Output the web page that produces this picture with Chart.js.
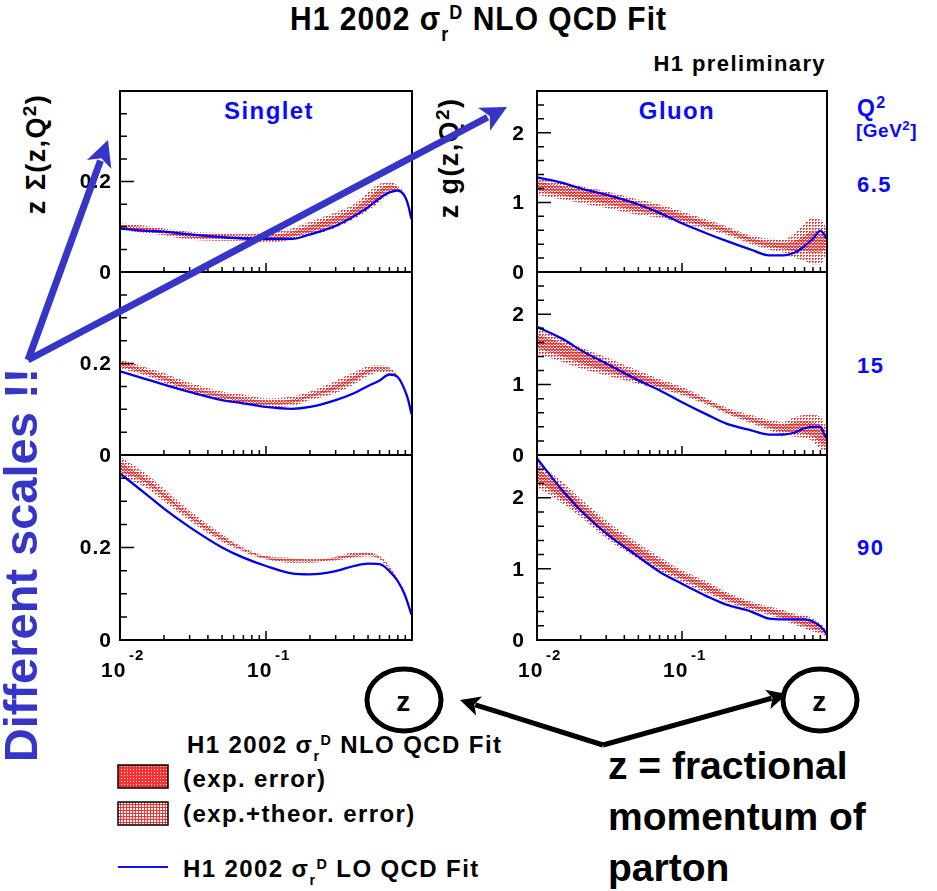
<!DOCTYPE html>
<html>
<head>
<meta charset="utf-8">
<title>H1 2002 NLO QCD Fit</title>
<script src="https://cdn.jsdelivr.net/npm/chart.js@4.4.1/dist/chart.umd.min.js"></script>
<style>
  body { margin: 0; background: #fff; }
  #page { position: relative; width: 937px; height: 891px; overflow: hidden; background: #fff; }
  #page canvas { position: absolute; }
  .t { position: absolute; white-space: nowrap; line-height: 1; font-family: "Liberation Sans", Arial, sans-serif; font-weight: bold; color: #000; }
  .root { letter-spacing: 1.4px; }
  .blue { color: #0a0aff; }
  .ppt { color: #3535c8; }
  .sub { font-size: 60%; position: relative; top: 0.55em; }
  .sup { font-size: 60%; position: relative; top: -0.55em; }
  .sq { font-size: 70%; position: relative; top: -0.5em; }
  .vert { transform: translate(-50%, -50%) rotate(-90deg); }
  #marks { position: absolute; left: 0; top: 0; }
</style>
</head>
<body>
<div id="page">
  <div class="t root" style="left:0;width:957px;text-align:center;top:4px;font-size:30px;letter-spacing:1px;transform:scaleY(1.1)">H1 2002 σ<span class="sub">r</span><span class="sup">D</span> NLO QCD Fit</div>
  <div class="t root" style="right:111px;top:53px;font-size:22px">H1 preliminary</div>

  <div class="t root blue" style="left:269px;top:99px;font-size:24px;transform:translateX(-50%)">Singlet</div>
  <div class="t root blue" style="left:677px;top:99px;font-size:24px;transform:translateX(-50%)">Gluon</div>

  <div class="t root vert" style="left:36px;top:154px;font-size:27px">z Σ(z,Q<span class="sq">2</span>)</div>
  <div class="t root vert" style="left:449px;top:158px;font-size:27px">z g(z,Q<span class="sq">2</span>)</div>

  <div class="t root blue" style="left:857px;top:97px;font-size:23px">Q<span class="sq">2</span></div>
  <div class="t root blue" style="left:856px;top:121px;font-size:19px;letter-spacing:0.5px">[GeV<span class="sq">2</span>]</div>
  <div class="t root blue" style="left:857px;top:174px;font-size:22px">6.5</div>
  <div class="t root blue" style="left:857px;top:355px;font-size:22px">15</div>
  <div class="t root blue" style="left:857px;top:537px;font-size:22px">90</div>

  <div class="t root" style="left:187px;top:733px;font-size:24px">H1 2002 σ<span class="sub">r</span><span class="sup">D</span> NLO QCD Fit</div>
  <div class="t root" style="left:183px;top:767px;font-size:24px">(exp. error)</div>
  <div class="t root" style="left:183px;top:802px;font-size:24px">(exp.+theor. error)</div>
  <div class="t root" style="left:183px;top:857px;font-size:24px">H1 2002 σ<span class="sub">r</span><span class="sup">D</span> LO QCD Fit</div>

  <div class="t root" style="left:404px;top:702px;font-size:28px;transform:translate(-50%,-50%)">z</div>
  <div class="t root" style="left:820px;top:702px;font-size:28px;transform:translate(-50%,-50%)">z</div>

  <div class="t" style="left:608px;top:746px;font-size:39px">z = fractional</div>
  <div class="t" style="left:608px;top:797px;font-size:39px">momentum of</div>
  <div class="t" style="left:608px;top:848px;font-size:39px">parton</div>

  <svg id="marks" width="937" height="891"></svg>
  <div class="t ppt vert" style="left:20px;top:565px;font-size:47px">Different scales !!</div>
</div>

<script>
// momentum fraction z, shared by every curve
const Z = [0.01, 0.015, 0.02, 0.03, 0.05, 0.07, 0.1, 0.15, 0.2, 0.3, 0.4, 0.5, 0.6, 0.7, 0.8, 0.9, 0.95, 0.99];

// singlet z*Sigma, Q2 = 6.5
const sigma6_lo    = [.096, .091, .089, .083, .077, .074, .073, .073, .083, .102, .123, .143, .163, .176, .180, .165, .143, .117];
const sigma6_totHi = [.108, .102, .096, .089, .086, .084, .086, .096, .111, .132, .150, .176, .195, .199, .190, .170, .145, .118];
const sigma6_totLo = [.093, .086, .081, .071, .069, .069, .065, .071, .080, .098, .117, .136, .154, .173, .177, .162, .138, .112];
const sigma6_expHi = [.104, .098, .092, .085, .082, .080, .080, .089, .103, .122, .140, .163, .183, .191, .186, .168, .143, .116];
const sigma6_expLo = [.097, .090, .085, .076, .073, .073, .071, .078, .088, .107, .126, .148, .166, .181, .181, .164, .140, .114];

// singlet, Q2 = 15
const sigma15_lo    = [.183, .166, .154, .138, .120, .113, .105, .101, .105, .120, .135, .151, .163, .176, .170, .139, .116, .090];
const sigma15_totHi = [.208, .192, .179, .158, .139, .132, .124, .128, .139, .162, .181, .194, .196, .192, .173, .143, .120, .094];
const sigma15_totLo = [.189, .173, .158, .135, .120, .110, .105, .107, .120, .135, .154, .173, .181, .181, .168, .137, .114, .089];
const sigma15_expHi = [.202, .186, .172, .150, .133, .125, .118, .121, .132, .153, .172, .187, .191, .188, .172, .141, .118, .092];
const sigma15_expLo = [.194, .178, .164, .142, .125, .116, .110, .113, .126, .143, .162, .180, .186, .185, .169, .139, .116, .090];

// singlet, Q2 = 90
const sigma90_lo    = [.360, .316, .284, .244, .200, .178, .160, .144, .142, .149, .160, .165, .164, .149, .127, .095, .073, .055];
const sigma90_totHi = [.396, .360, .327, .280, .229, .200, .182, .178, .175, .180, .189, .189, .182, .160, .131, .102, .076, .058];
const sigma90_totLo = [.353, .330, .300, .258, .212, .191, .174, .167, .167, .172, .178, .181, .174, .153, .127, .098, .074, .057];
const sigma90_expHi = [.385, .350, .318, .272, .224, .197, .180, .175, .173, .178, .186, .187, .179, .158, .130, .101, .075, .058];
const sigma90_expLo = [.365, .340, .308, .265, .217, .194, .176, .169, .169, .174, .181, .183, .177, .155, .128, .099, .075, .057];

// gluon z*g, Q2 = 6.5
const glu6_lo    = [1.36, 1.28, 1.20, 1.11, 0.97, 0.85, 0.70, 0.55, 0.45, 0.32, 0.24, 0.24, 0.28, 0.37, 0.48, 0.59, 0.55, 0.48];
const glu6_totHi = [1.35, 1.28, 1.23, 1.16, 1.04, 0.97, 0.87, 0.75, 0.66, 0.52, 0.48, 0.47, 0.56, 0.70, 0.78, 0.75, 0.70, 0.61];
const glu6_totLo = [1.11, 1.04, 0.99, 0.92, 0.82, 0.78, 0.70, 0.61, 0.54, 0.40, 0.32, 0.28, 0.20, 0.16, 0.11, 0.11, 0.18, 0.28];
const glu6_expHi = [1.30, 1.23, 1.18, 1.11, 1.00, 0.93, 0.83, 0.71, 0.63, 0.49, 0.43, 0.42, 0.45, 0.52, 0.58, 0.55, 0.52, 0.50];
const glu6_expLo = [1.17, 1.10, 1.05, 0.98, 0.87, 0.82, 0.74, 0.65, 0.57, 0.43, 0.36, 0.33, 0.30, 0.30, 0.28, 0.28, 0.32, 0.38];

// gluon, Q2 = 15
const glu15_lo    = [1.82, 1.65, 1.49, 1.30, 1.06, 0.92, 0.75, 0.57, 0.45, 0.35, 0.29, 0.29, 0.32, 0.38, 0.40, 0.40, 0.31, 0.24];
const glu15_totHi = [1.79, 1.65, 1.53, 1.39, 1.20, 1.08, 0.97, 0.80, 0.68, 0.57, 0.50, 0.47, 0.54, 0.57, 0.57, 0.54, 0.47, 0.38];
const glu15_totLo = [1.44, 1.32, 1.23, 1.13, 1.01, 0.94, 0.85, 0.71, 0.59, 0.45, 0.35, 0.28, 0.26, 0.24, 0.19, 0.09, 0.06, 0.07];
const glu15_expHi = [1.72, 1.58, 1.47, 1.33, 1.15, 1.04, 0.93, 0.77, 0.65, 0.53, 0.46, 0.43, 0.47, 0.48, 0.46, 0.42, 0.37, 0.30];
const glu15_expLo = [1.52, 1.40, 1.30, 1.19, 1.05, 0.97, 0.88, 0.73, 0.61, 0.48, 0.39, 0.33, 0.32, 0.30, 0.26, 0.18, 0.14, 0.13];

// gluon, Q2 = 90
const glu90_lo    = [2.55, 2.10, 1.82, 1.50, 1.17, 0.96, 0.79, 0.61, 0.50, 0.40, 0.30, 0.29, 0.29, 0.29, 0.26, 0.19, 0.14, 0.09];
const glu90_totHi = [2.50, 2.22, 1.99, 1.68, 1.36, 1.17, 0.98, 0.82, 0.68, 0.54, 0.47, 0.42, 0.37, 0.35, 0.30, 0.23, 0.19, 0.12];
const glu90_totLo = [2.15, 1.92, 1.73, 1.43, 1.14, 0.98, 0.82, 0.65, 0.54, 0.42, 0.35, 0.28, 0.21, 0.16, 0.12, 0.09, 0.07, 0.05];
const glu90_expHi = [2.42, 2.15, 1.93, 1.62, 1.31, 1.12, 0.94, 0.78, 0.65, 0.51, 0.44, 0.39, 0.34, 0.31, 0.26, 0.20, 0.16, 0.10];
const glu90_expLo = [2.24, 1.98, 1.78, 1.49, 1.19, 1.02, 0.86, 0.69, 0.57, 0.45, 0.38, 0.31, 0.25, 0.20, 0.16, 0.12, 0.09, 0.06];

// axis ticks and labels
const X_LABEL_VALUES = [0.01, 0.1];
const X_LABEL_EXPONENTS = ['-2', '-1'];
const SINGLET_Y_LABELS = [0, 0.2];
const GLUON_Y_LABELS = [0, 1, 2];

const page = document.getElementById('page');

// fine red stipple used for the error bands
function stipple(cells) {
  const c = document.createElement('canvas');
  c.width = 3; c.height = 3;
  const g = c.getContext('2d');
  g.fillStyle = '#ff3030';
  cells.forEach(([x, y]) => g.fillRect(x, y, 1, 1));
  return g.createPattern(c, 'repeat');
}
const totPattern = stipple([[0, 0], [1, 0], [0, 1]]);
const expPattern = stipple([[1, 1], [2, 2], [2, 0]]);

// frame, inward ticks and tick labels in the ROOT style
const frame = {
  id: 'frame',
  afterDatasetsDraw(chart, args, opts) {
    const { ctx, chartArea: a, scales: { x, y } } = chart;
    ctx.save();
    ctx.strokeStyle = '#000';
    ctx.lineWidth = 1.5;
    ctx.beginPath();
    const n = Math.round(opts.yMax / opts.yMinor);
    for (let i = 0; i <= n; i++) {
      const v = i * opts.yMinor;
      const py = y.getPixelForValue(v);
      const major = i % opts.perMajor === 0;
      ctx.moveTo(a.left, py);
      ctx.lineTo(a.left + (major ? 14 : 7), py);
    }
    for (let d = -2; d < 0; d++) {
      for (let k = 1; k <= 9; k++) {
        const px = x.getPixelForValue(k * Math.pow(10, d));
        ctx.moveTo(px, a.bottom);
        ctx.lineTo(px, a.bottom - (k === 1 ? 9 : 5));
      }
    }
    ctx.stroke();
    ctx.lineWidth = 2;
    ctx.strokeRect(a.left, a.top, a.right - a.left, a.bottom - a.top);

    ctx.fillStyle = '#000';
    ctx.letterSpacing = '1px';
    ctx.font = 'bold 21px "Liberation Sans", Arial';
    ctx.textAlign = 'right';
    ctx.textBaseline = 'middle';
    opts.yLabels.forEach(v => ctx.fillText(String(v), a.left - opts.gap, y.getPixelForValue(v) + 1));

    if (opts.xLabels) {
      ctx.textAlign = 'left';
      ctx.textBaseline = 'alphabetic';
      X_LABEL_VALUES.forEach((v, i) => {
        const px = x.getPixelForValue(v);
        ctx.font = 'bold 21px "Liberation Sans", Arial';
        ctx.fillText('10', px - 19, a.bottom + 37);
        ctx.font = 'bold 15px "Liberation Sans", Arial';
        ctx.fillText(X_LABEL_EXPONENTS[i], px + 9, a.bottom + 20);
      });
    }
    ctx.restore();
  }
};

const pts = arr => Z.map((z, i) => ({ x: z, y: arr[i] }));

const COL_LEFT = [120, 537];
const COL_RIGHT = [412, 827];
const ROW_TOP = [91, 272, 455];
const ROW_BOTTOM = [272, 455, 640];
const PAD = { left: 70, top: 4, right: 4, bottom: 50 };

function panel(col, row, lo, totHi, totLo, expHi, expLo) {
  const singlet = col === 0;
  const canvas = document.createElement('canvas');
  const w = COL_RIGHT[col] - COL_LEFT[col];
  const h = ROW_BOTTOM[row] - ROW_TOP[row];
  canvas.width = w + PAD.left + PAD.right;
  canvas.height = h + PAD.top + PAD.bottom;
  canvas.style.left = (COL_LEFT[col] - PAD.left) + 'px';
  canvas.style.top = (ROW_TOP[row] - PAD.top) + 'px';
  page.insertBefore(canvas, document.getElementById('marks'));

  const band = (data, fill, pattern) => ({
    data: pts(data), fill: fill, backgroundColor: pattern,
    borderColor: 'transparent', borderWidth: 0, pointRadius: 0,
    cubicInterpolationMode: 'monotone'
  });

  new Chart(canvas, {
    type: 'line',
    data: {
      datasets: [
        { data: pts(lo), borderColor: '#0000f0', borderWidth: 2.3, pointRadius: 0, fill: false, cubicInterpolationMode: 'monotone' },
        band(expHi, '+1', expPattern),
        band(expLo, false, 'transparent'),
        band(totHi, '+1', totPattern),
        band(totLo, false, 'transparent')
      ]
    },
    options: {
      responsive: false,
      animation: false,
      devicePixelRatio: 1,
      layout: { padding: PAD },
      plugins: {
        legend: { display: false },
        tooltip: { enabled: false },
        frame: singlet
          ? { yMax: 0.4, yMinor: 0.05, perMajor: 4, yLabels: SINGLET_Y_LABELS, gap: 8, xLabels: row === 2 }
          : { yMax: 2.6, yMinor: 0.2, perMajor: 5, yLabels: GLUON_Y_LABELS, gap: 12, xLabels: row === 2 }
      },
      scales: {
        x: { type: 'logarithmic', min: 0.01, max: 1, display: false },
        y: { min: 0, max: singlet ? 0.4 : 2.6, display: false }
      }
    },
    plugins: [frame]
  });
}

panel(0, 0, sigma6_lo, sigma6_totHi, sigma6_totLo, sigma6_expHi, sigma6_expLo);
panel(0, 1, sigma15_lo, sigma15_totHi, sigma15_totLo, sigma15_expHi, sigma15_expLo);
panel(0, 2, sigma90_lo, sigma90_totHi, sigma90_totLo, sigma90_expHi, sigma90_expLo);
panel(1, 0, glu6_lo, glu6_totHi, glu6_totLo, glu6_expHi, glu6_expLo);
panel(1, 1, glu15_lo, glu15_totHi, glu15_totLo, glu15_expHi, glu15_expLo);
panel(1, 2, glu90_lo, glu90_totHi, glu90_totLo, glu90_expHi, glu90_expLo);

// legend swatches, circles and arrows
const svg = document.getElementById('marks');
const NS = 'http://www.w3.org/2000/svg';
function add(tag, attrs, parent) {
  const el = document.createElementNS(NS, tag);
  for (const k in attrs) el.setAttribute(k, attrs[k]);
  (parent || svg).appendChild(el);
  return el;
}
const defs = add('defs', {});
const pExp = add('pattern', { id: 'pExp', width: 3, height: 3, patternUnits: 'userSpaceOnUse' }, defs);
add('rect', { width: 3, height: 3, fill: '#ff3030' }, pExp);
add('rect', { x: 1, y: 1, width: 1, height: 1, fill: '#fff' }, pExp);
const pTot = add('pattern', { id: 'pTot', width: 3, height: 3, patternUnits: 'userSpaceOnUse' }, defs);
add('rect', { width: 3, height: 3, fill: '#fff' }, pTot);
add('rect', { width: 3, height: 1, fill: '#ff3030' }, pTot);
add('rect', { width: 1, height: 3, fill: '#ff3030' }, pTot);

add('rect', { x: 118, y: 765, width: 50, height: 23, fill: 'url(#pExp)', stroke: '#000', 'stroke-width': 1.5 });
add('rect', { x: 118, y: 802, width: 50, height: 23, fill: 'url(#pTot)', stroke: '#000', 'stroke-width': 1.5 });
add('line', { x1: 118, y1: 867, x2: 168, y2: 867, stroke: '#1010ff', 'stroke-width': 2 });

add('ellipse', { cx: 404, cy: 700, rx: 37, ry: 31, fill: 'none', stroke: '#000', 'stroke-width': 5 });
add('ellipse', { cx: 820, cy: 700, rx: 37, ry: 31, fill: 'none', stroke: '#000', 'stroke-width': 5 });

function arrow(x1, y1, x2, y2, color, w, head) {
  const dx = x2 - x1, dy = y2 - y1, len = Math.hypot(dx, dy);
  const ux = dx / len, uy = dy / len;
  const bx = x2 - ux * head, by = y2 - uy * head;
  const half = head * 0.5;
  add('line', { x1, y1, x2: bx + ux * 4, y2: by + uy * 4, stroke: color, 'stroke-width': w });
  const notchX = bx + ux * head * 0.25, notchY = by + uy * head * 0.25;
  add('polygon', {
    points: `${x2},${y2} ${bx - uy * half},${by + ux * half} ${notchX},${notchY} ${bx + uy * half},${by - ux * half}`,
    fill: color
  });
}
arrow(28, 360, 108, 140, '#3535c8', 7, 26);
arrow(28, 360, 507, 107, '#3535c8', 7, 26);
arrow(603, 745, 460, 700, '#000', 5, 20);
arrow(603, 745, 787, 694, '#000', 5, 20);
</script>
</body>
</html>
